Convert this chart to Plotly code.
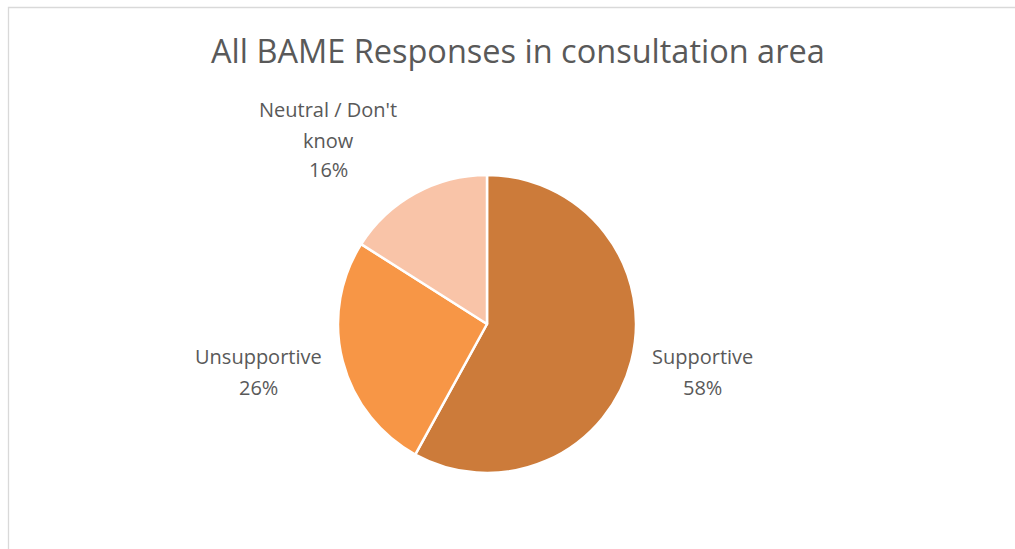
import plotly.graph_objects as go

# Response categories and their shares (%)
categories = ["Supportive", "Unsupportive", "Neutral / Don't know"]
shares = [58, 26, 16]
slice_colors = ["#CC7B3A", "#F79646", "#F9C4A8"]

# Label text lines for each category (name wrapped as displayed)
label_lines = [["Supportive"], ["Unsupportive"], ["Neutral / Don't", "know"]]
# Label block anchors in pixels: centre x, centre y of first line
label_anchor = [(702, 357), (258, 357), (328, 110)]
LINE_GAP = 30

W, H = 1015, 549
cx, cy, r = 487, 324, 149

fig = go.Figure(
    go.Pie(
        labels=categories,
        values=shares,
        sort=False,
        direction="clockwise",
        rotation=0,
        marker=dict(colors=slice_colors, line=dict(color="white", width=2.5)),
        textinfo="none",
        hoverinfo="label+percent",
        showlegend=False,
        domain=dict(x=[(cx - r) / W, (cx + r) / W], y=[1 - (cy + r) / H, 1 - (cy - r) / H]),
    )
)

text_color = "#595959"
annotations = [
    dict(
        text="All BAME Responses in consultation area",
        x=517.5 / W, y=1 - 51 / H, xref="paper", yref="paper",
        showarrow=False, xanchor="center", yanchor="middle",
        font=dict(family="Open Sans", size=32.5, color=text_color),
    )
]
for lines, val, (ax, ay) in zip(label_lines, shares, label_anchor):
    for i, line in enumerate(lines + [f"{val}%"]):
        annotations.append(
            dict(
                text=line,
                x=ax / W, y=1 - (ay + i * LINE_GAP) / H,
                xref="paper", yref="paper",
                showarrow=False, xanchor="center", yanchor="middle",
                font=dict(family="Open Sans", size=20, color=text_color),
            )
        )

fig.update_layout(
    width=W, height=H,
    margin=dict(l=0, r=0, t=0, b=0),
    paper_bgcolor="white",
    plot_bgcolor="white",
    annotations=annotations,
    shapes=[
        dict(
            type="rect", xref="paper", yref="paper",
            x0=8.5 / W, x1=1.05, y0=-0.05, y1=1 - 7.5 / H,
            line=dict(color="#D9D9D9", width=1.3), fillcolor="rgba(0,0,0,0)",
        )
    ],
)

fig.write_html("out.html")
